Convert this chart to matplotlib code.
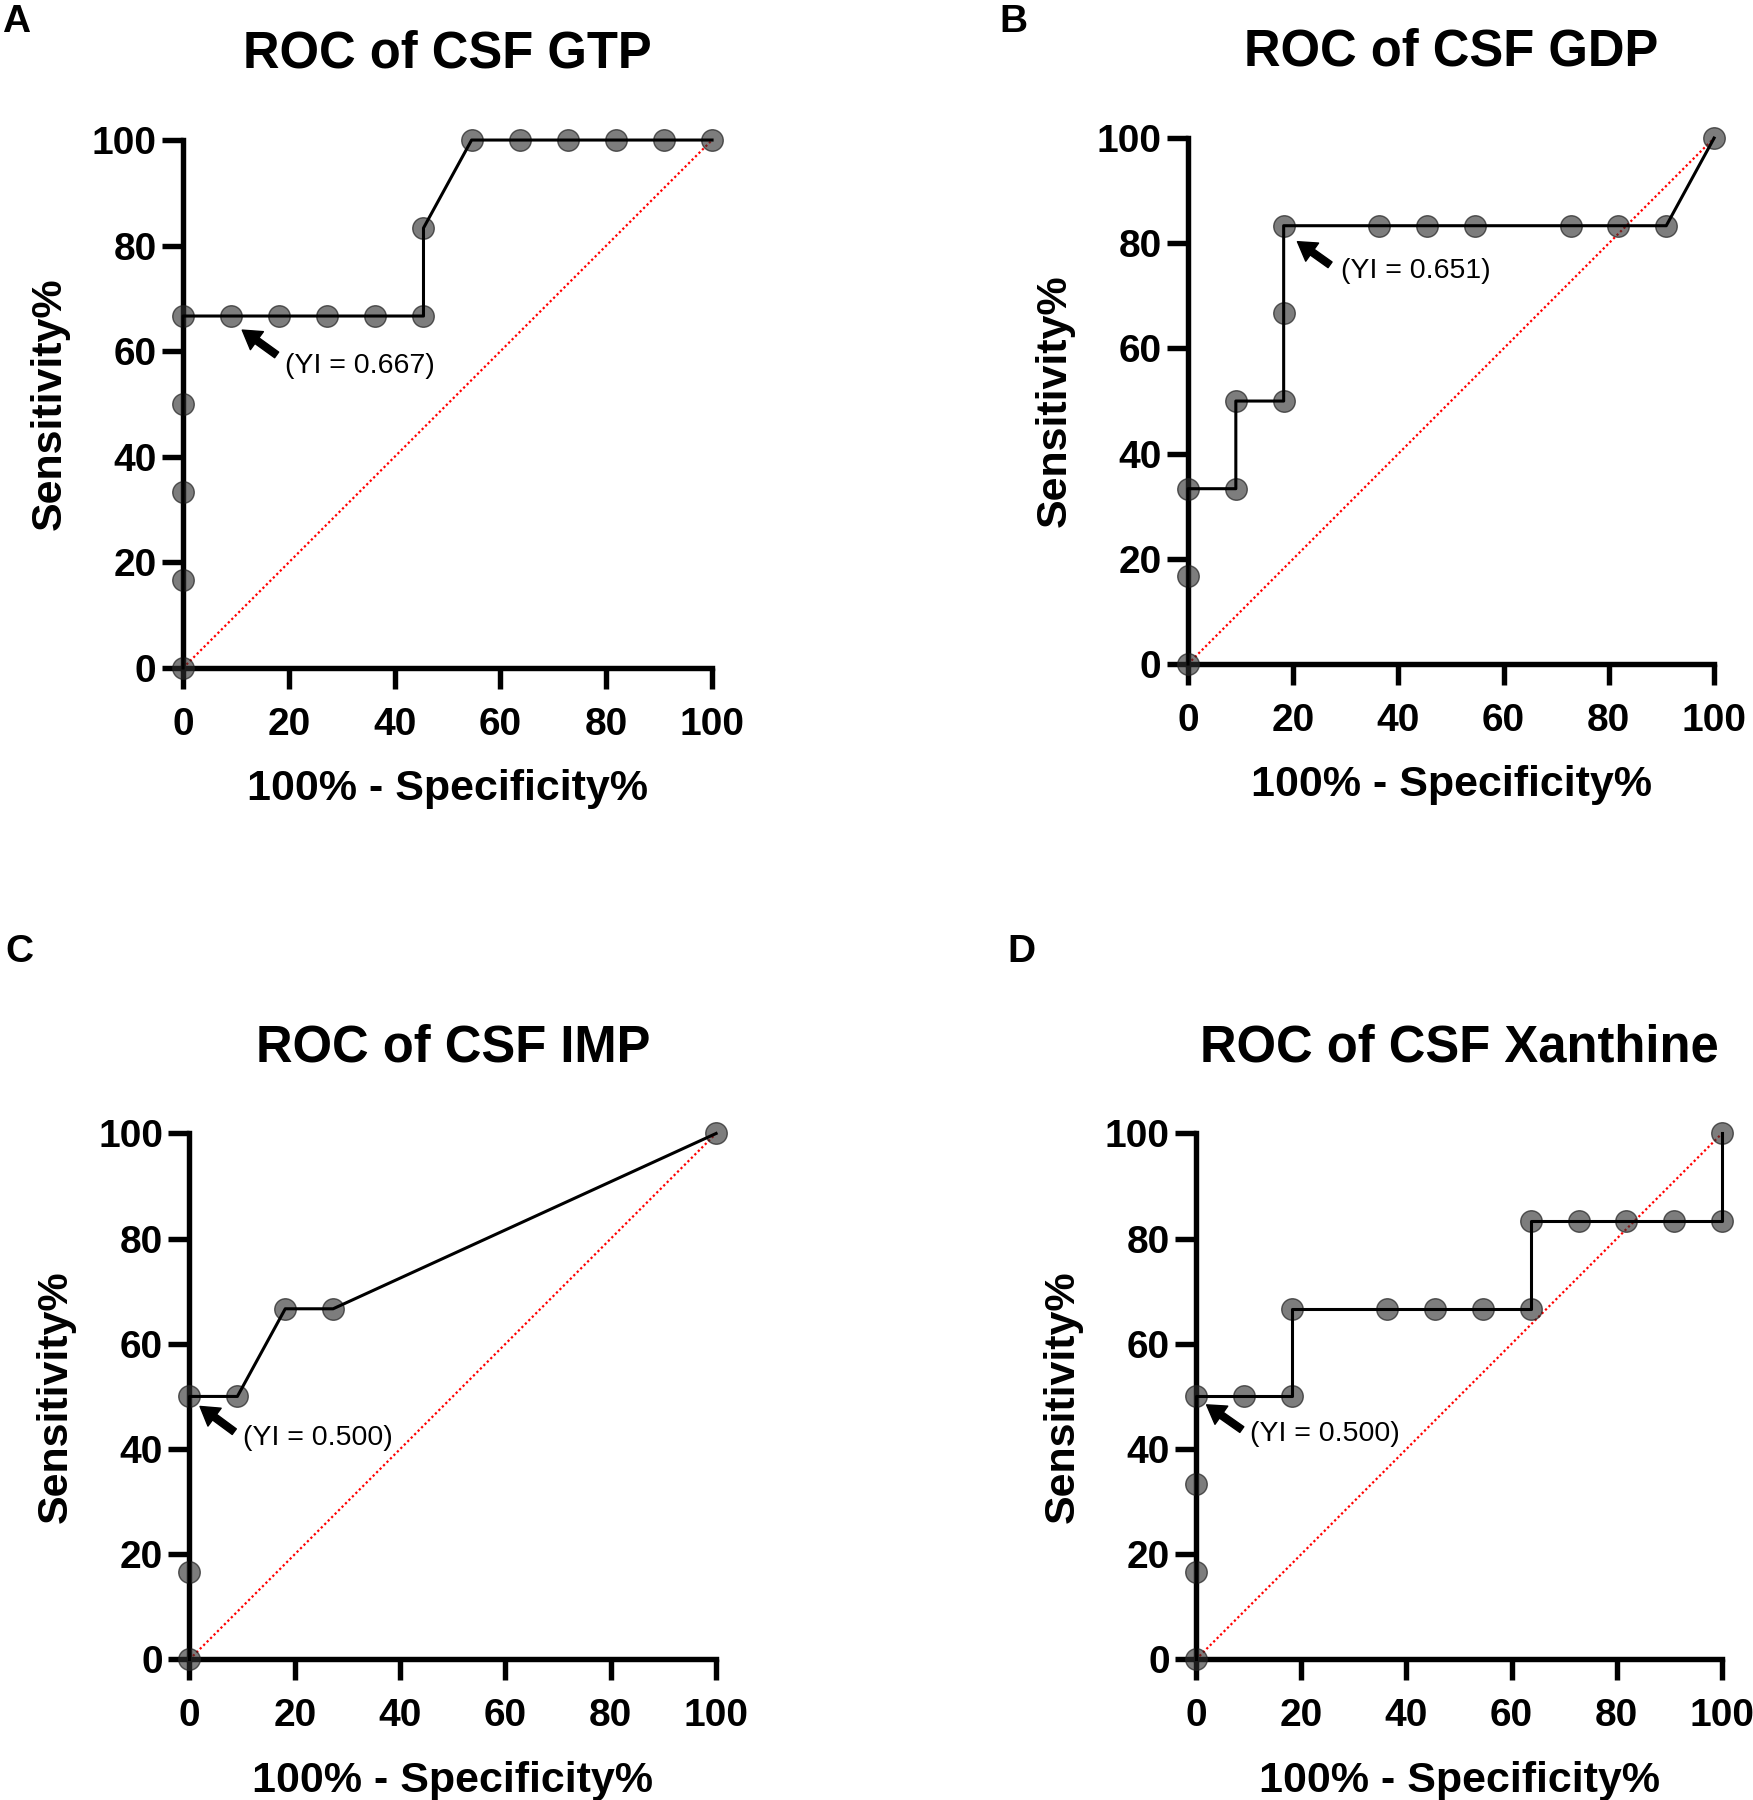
import numpy as np
import matplotlib
matplotlib.use("Agg")
from matplotlib import pyplot as plt

plt.rcParams["font.family"] = ["Liberation Sans", "DejaVu Sans"]

# ROC points (100% - specificity %, sensitivity %); 11 controls, 6 cases
step_x = 100 / 11
step_y = 100 / 6

gtp_fpr = np.array([0, 0, 0, 0, 0, 1, 2, 3, 4, 5, 5, 6, 7, 8, 9, 10, 11]) * step_x
gtp_tpr = np.array([0, 1, 2, 3, 4, 4, 4, 4, 4, 4, 5, 6, 6, 6, 6, 6, 6]) * step_y

gdp_fpr = np.array([0, 0, 0, 1, 1, 2, 2, 2, 4, 5, 6, 8, 9, 10, 11]) * step_x
gdp_tpr = np.array([0, 1, 2, 2, 3, 3, 4, 5, 5, 5, 5, 5, 5, 5, 6]) * step_y

imp_fpr = np.array([0, 0, 0, 1, 2, 3, 11]) * step_x
imp_tpr = np.array([0, 1, 3, 3, 4, 4, 6]) * step_y

xan_fpr = np.array([0, 0, 0, 0, 1, 2, 2, 4, 5, 6, 7, 7, 8, 9, 10, 11, 11]) * step_x
xan_tpr = np.array([0, 1, 2, 3, 3, 3, 4, 4, 4, 4, 4, 5, 5, 5, 5, 5, 6]) * step_y

titles = ["ROC of CSF GTP", "ROC of CSF GDP", "ROC of CSF IMP", "ROC of CSF Xanthine"]
panel_letters = ["A", "B", "C", "D"]
yi_labels = ["(YI = 0.667)", "(YI = 0.651)", "(YI = 0.500)", "(YI = 0.500)"]

# arrow tip, arrow tail, text anchor (data coords)
arrow_tips = [(11.2, 64.0), (20.8, 80.3), (2.0, 48.1), (2.0, 48.4)]
arrow_tails = [(17.7, 59.3), (27.0, 75.9), (8.5, 43.3), (8.7, 43.7)]
text_pos = [(19.3, 57.2), (29.0, 74.7), (10.2, 42.1), (10.3, 42.8)]

ticks = [0, 20, 40, 60, 80, 100]

fig = plt.figure(figsize=(17.53, 18.0), dpi=100)

# axes rectangles [left, bottom, width, height] in figure fractions
rects = [
    [0.1044, 0.6289, 0.3018, 0.2933],
    [0.6777, 0.6311, 0.3001, 0.2922],
    [0.1081, 0.0781, 0.3004, 0.2922],
    [0.6823, 0.0781, 0.3000, 0.2922],
]
# panel letter baselines
letter_xy = [(0.001, 0.9822), (0.570, 0.9822), (0.003, 0.4656), (0.5745, 0.4656)]

curves = [(gtp_fpr, gtp_tpr), (gdp_fpr, gdp_tpr), (imp_fpr, imp_tpr), (xan_fpr, xan_tpr)]

for k, (fpr, tpr) in enumerate(curves):
    ax = fig.add_axes(rects[k])

    # chance line
    ax.plot([0, 100], [0, 100], color="red", linestyle=(0, (1, 1.2)), linewidth=1.6,
            zorder=2, clip_on=False)
    # ROC curve markers and line
    ax.plot(fpr, tpr, linestyle="none", marker="o", markersize=15.5,
            markerfacecolor=(0.18, 0.18, 0.18, 0.62), markeredgecolor=(0.12, 0.12, 0.12, 0.7),
            markeredgewidth=1.0, zorder=3, clip_on=False)
    ax.plot(fpr, tpr, color="black", linewidth=2.2, zorder=4, clip_on=False)

    ax.set_xlim(0, 100)
    ax.set_ylim(0, 100)
    ax.set_xticks(ticks)
    ax.set_yticks(ticks)
    ax.tick_params(width=3.9, length=15, labelsize=28)
    ax.tick_params(axis="x", pad=13)
    ax.tick_params(axis="y", pad=4)
    for lbl in ax.get_xticklabels() + ax.get_yticklabels():
        lbl.set_fontweight("bold")

    ax.spines["top"].set_visible(False)
    ax.spines["right"].set_visible(False)
    ax.spines["left"].set_linewidth(3.9)
    ax.spines["bottom"].set_linewidth(3.9)
    ax.spines["left"].set_capstyle("projecting")
    ax.spines["bottom"].set_capstyle("projecting")

    ax.set_xlabel("100% - Specificity%", fontsize=31, fontweight="bold", labelpad=19)
    ax.set_ylabel("Sensitivity%", fontsize=31, fontweight="bold", labelpad=16)
    ax.set_title(titles[k], fontsize=36.5, fontweight="bold", pad=52)

    # Youden index annotation
    ax.annotate("", xy=arrow_tips[k], xytext=arrow_tails[k],
                arrowprops=dict(facecolor="black", edgecolor="black", width=5,
                                headwidth=16, headlength=13, shrink=0),
                annotation_clip=False, zorder=5)
    ax.text(text_pos[k][0], text_pos[k][1], yi_labels[k], fontsize=20.5,
            ha="left", va="center", zorder=5)

    fig.text(letter_xy[k][0], letter_xy[k][1], panel_letters[k], fontsize=28,
             fontweight="bold", ha="left", va="baseline")

fig.savefig("out.png", dpi=100)
plt.close()
